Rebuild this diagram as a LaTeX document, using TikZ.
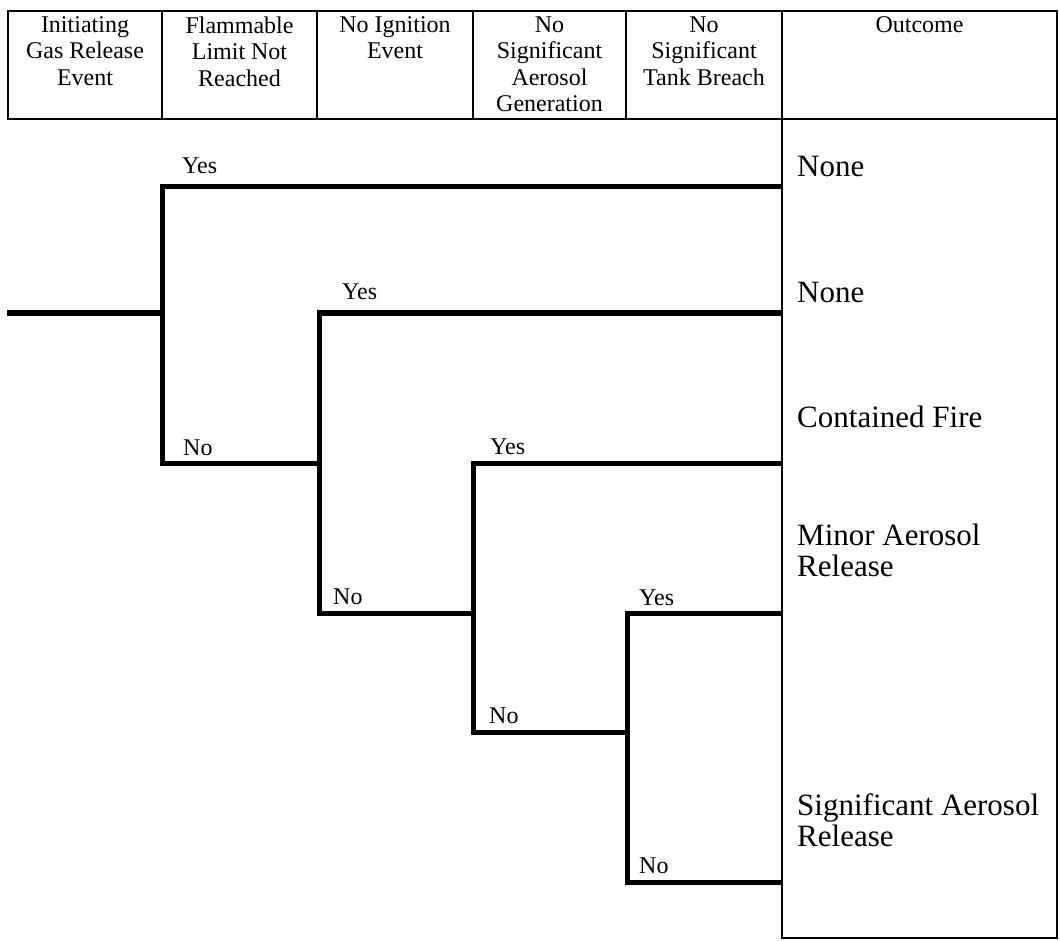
\documentclass[tikz,border=0pt]{standalone}
\usepackage{fontspec}
\setmainfont{Liberation Serif}
\begin{document}
\begin{tikzpicture}[x=1pt,y=-1pt,
  frame/.style={line width=2.5pt},
  branch/.style={line width=5pt,line join=miter},
  head/.style={anchor=north,inner sep=0pt,align=center,font=\fontsize{24}{26.3}\selectfont},
  lab/.style={anchor=base west,inner sep=0pt,font=\fontsize{24}{26}\selectfont},
  outc/.style={anchor=base west,inner sep=0pt,font=\fontsize{31}{31.5}\selectfont},
  outcm/.style={anchor=north west,inner sep=0pt,align=left,font=\fontsize{31}{30.5}\selectfont},
]
\useasboundingbox (0,0) rectangle (1060,941);

% header table
\draw[frame] (8,11) rectangle (1057,119);
\foreach \x in {162,317,473,626,782} \draw[frame] (\x,11) -- (\x,119);
\node[head] (h1) at (85,16.6)    {Initiating\\Gas Release\\Event};
\node[head] (h2) at (239.5,16.6) {Flammable\\Limit Not\\Reached};
\node[head] (h3) at (395,16.6)   {No Ignition\\Event};
\node[head] (h4) at (549.5,16.6) {No\\Significant\\Aerosol\\Generation};
\node[head] (h5) at (704,16.6)   {No\\Significant\\Tank Breach};
\node[head] (h6) at (919.5,16.6) {Outcome};

% outcome column
\draw[frame] (782,119) rectangle (1057,938);

% tree coordinates
\coordinate (s)  at (7,313);
\coordinate (a)  at (162,313);
\coordinate (a1) at (162,187);
\coordinate (a2) at (162,463);
\coordinate (b)  at (319,463);
\coordinate (b1) at (319,313);
\coordinate (b2) at (319,613);
\coordinate (c)  at (473,613);
\coordinate (c1) at (473,463);
\coordinate (c2) at (473,732);
\coordinate (d)  at (627,732);
\coordinate (d1) at (627,613);
\coordinate (d2) at (627,882);
\coordinate (o1) at (782,187);
\coordinate (o2) at (782,313);
\coordinate (o3) at (782,463);
\coordinate (o4) at (782,613);
\coordinate (o5) at (782,882);

\draw[branch] (s) -- (a);
\draw[branch] (o1) -- (a1) -- (a2) -- (b);
\draw[branch] (o2) -- (b1) -- (b2) -- (c);
\draw[branch] (o3) -- (c1) -- (c2) -- (d);
\draw[branch] (o4) -- (d1) -- (d2) -- (o5);

% branch labels
\node[lab] (y1) at (182,174) {Yes};
\node[lab] (n1) at (183,455) {No};
\node[lab] (y2) at (342,299) {Yes};
\node[lab] (n2) at (333,604) {No};
\node[lab] (y3) at (490,454) {Yes};
\node[lab] (n3) at (489,723) {No};
\node[lab] (y4) at (639,605) {Yes};
\node[lab] (n4) at (639,873) {No};

% outcomes
\node[outc] (r1) at (797,177) {None};
\node[outc] (r2) at (797,302) {None};
\node[outc] (r3) at (797,427) {Contained Fire};
\node[outcm] (r4) at (797,523.8) {Minor Aerosol\\Release};
\node[outcm] (r5) at (797,793.8) {Significant Aerosol\\Release};
\end{tikzpicture}
\end{document}
